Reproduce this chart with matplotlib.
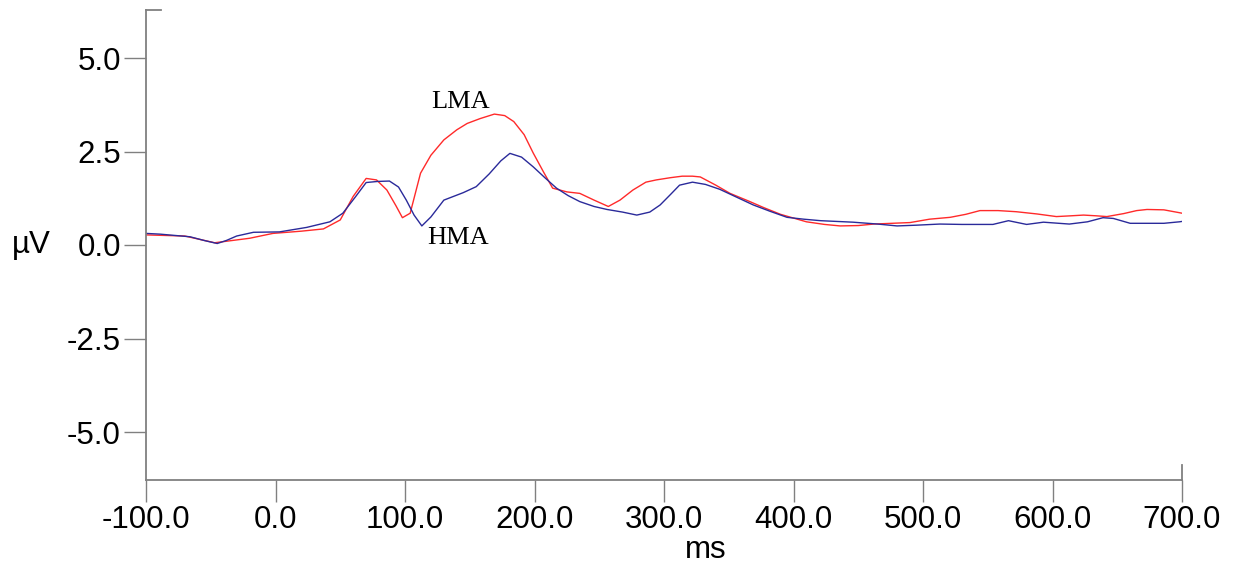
import matplotlib
matplotlib.use("Agg")
import matplotlib.pyplot as plt

# Time (ms) and amplitude (µV) for the two ERP waveforms
lma_t = [-100, -70, -47, -20, -2, 20, 37, 50, 60, 70, 78, 86, 93, 98, 104, 112, 120, 130,
         140, 148, 158, 169, 177, 184, 192, 199, 207, 214, 225, 235, 246, 257, 266, 276,
         286, 294, 305, 314, 322, 328, 340, 351, 365, 377, 390, 400, 410, 424, 436, 450,
         462, 476, 490, 505, 521, 533, 544, 558, 572, 588, 603, 614, 624, 634, 642, 655,
         665, 673, 686, 697, 700]
lma_v = [0.27, 0.24, 0.06, 0.18, 0.31, 0.37, 0.43, 0.67, 1.30, 1.78, 1.74, 1.47, 1.05, 0.73,
         0.85, 1.92, 2.40, 2.81, 3.08, 3.25, 3.38, 3.50, 3.46, 3.30, 2.95, 2.46, 1.95, 1.52,
         1.42, 1.38, 1.20, 1.03, 1.20, 1.47, 1.68, 1.74, 1.80, 1.84, 1.84, 1.82, 1.60, 1.38,
         1.18, 1.00, 0.82, 0.72, 0.62, 0.55, 0.51, 0.52, 0.56, 0.58, 0.60, 0.69, 0.74, 0.82,
         0.92, 0.92, 0.89, 0.83, 0.76, 0.78, 0.80, 0.78, 0.76, 0.84, 0.92, 0.95, 0.94, 0.87,
         0.85]

hma_t = [-100, -89, -66, -55, -45, -38, -30, -17, 3, 24, 42, 52, 62, 70, 79, 88, 95, 101,
         107, 113, 120, 130, 145, 155, 165, 174, 181, 190, 199, 208, 217, 226, 235, 246,
         256, 268, 279, 289, 297, 305, 312, 322, 332, 343, 356, 369, 382, 395, 408, 421,
         446, 465, 480, 495, 513, 530, 554, 566, 580, 593, 613, 627, 639, 647, 660, 675,
         686, 698, 700]
hma_v = [0.31, 0.29, 0.22, 0.12, 0.04, 0.12, 0.24, 0.34, 0.35, 0.47, 0.62, 0.85, 1.30, 1.67,
         1.70, 1.71, 1.55, 1.20, 0.80, 0.51, 0.75, 1.20, 1.40, 1.56, 1.90, 2.25, 2.45, 2.35,
         2.09, 1.80, 1.52, 1.32, 1.16, 1.03, 0.95, 0.88, 0.80, 0.88, 1.07, 1.35, 1.60, 1.68,
         1.62, 1.49, 1.28, 1.07, 0.90, 0.74, 0.69, 0.65, 0.61, 0.56, 0.51, 0.53, 0.56, 0.55,
         0.55, 0.65, 0.55, 0.61, 0.56, 0.62, 0.73, 0.71, 0.58, 0.58, 0.58, 0.62, 0.63]

x_ticks = [-100, 0, 100, 200, 300, 400, 500, 600, 700]
y_ticks = [5.0, 2.5, 0.0, -2.5, -5.0]

plt.rcParams["font.family"] = ["Liberation Sans", "DejaVu Sans"]

fig = plt.figure(figsize=(12.34, 5.72), dpi=100)
ax = fig.add_axes([146 / 1234, 1 - 480 / 572, (1182 - 146) / 1234, (480 - 10) / 572])

ax.plot(lma_t, lma_v, color="#ff2a2a", lw=1.0)
ax.plot(hma_t, hma_v, color="#2a2a9a", lw=1.0)

ymax = (245 - 10) / 37.4
ymin = -(480 - 245) / 37.4
ax.set_xlim(-100, 700)
ax.set_ylim(ymin, ymax)

axis_col = "#808080"
for side in ["top", "right"]:
    ax.spines[side].set_visible(False)
for side in ["left", "bottom"]:
    ax.spines[side].set_color(axis_col)
    ax.spines[side].set_linewidth(1.3)

ax.set_xticks(x_ticks)
ax.set_xticklabels([f"{v:.1f}" for v in x_ticks])
ax.set_yticks(y_ticks)
ax.set_yticklabels([f"{v:.1f}" for v in y_ticks])
ax.tick_params(axis="both", direction="out", length=16, width=1.0, color=axis_col,
               labelsize=22.5, pad=2)

# small end caps at the far ends of both axes
ax.plot([0, 0.014], [1, 1], transform=ax.transAxes, color=axis_col, lw=1.3, clip_on=False)
ax.plot([1, 1], [0, 0.032], transform=ax.transAxes, color=axis_col, lw=1.3, clip_on=False)

ax.text(-0.111, (0 - ymin) / (ymax - ymin), "µV", transform=ax.transAxes,
        fontsize=22.5, ha="center", va="center")
ax.text(0.5405, -0.149, "ms", transform=ax.transAxes, fontsize=22.5, ha="center", va="center")

ax.text(142.5, 3.82, "LMA", fontsize=19, family=["Liberation Serif", "DejaVu Serif"],
        ha="center", va="center")
ax.text(141, 0.19, "HMA", fontsize=19, family=["Liberation Serif", "DejaVu Serif"],
        ha="center", va="center")

fig.savefig("out.png", dpi=100)
